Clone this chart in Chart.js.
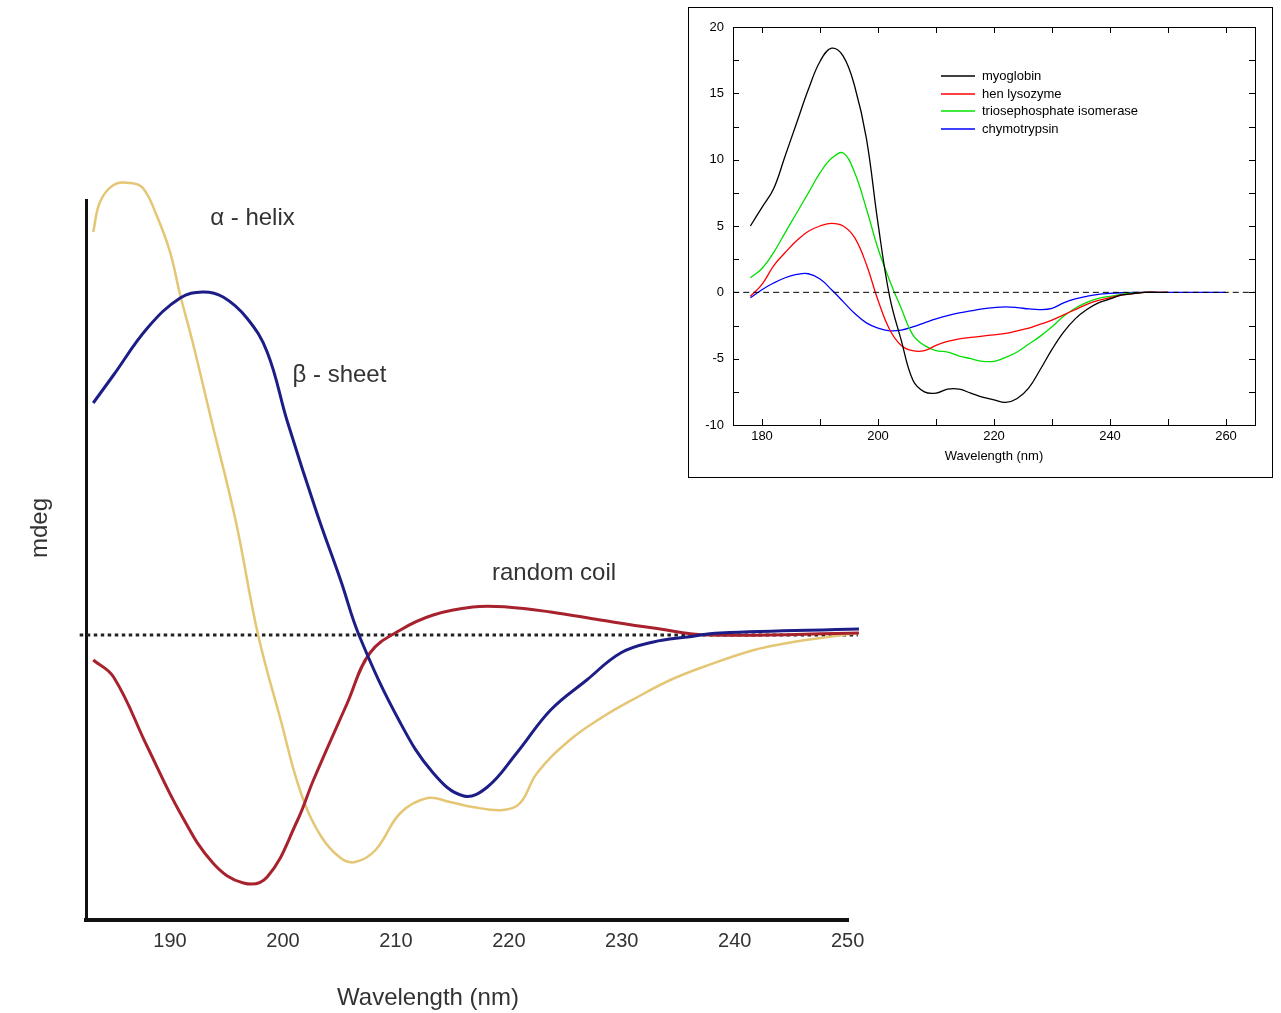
<!DOCTYPE html>
<html>
<head>
<meta charset="utf-8">
<script src="https://cdn.jsdelivr.net/npm/chart.js@4.4.0/dist/chart.umd.min.js"></script>
<style>
  body { margin: 0; background: #fff; }
  #left { position: absolute; left: 0; top: 0; }
  #rightBox { position: absolute; left: 688px; top: 7px; width: 583px; height: 469px; border: 1px solid #000; background: #fff; }
  #right { display: block; }
</style>
</head>
<body>
<canvas id="left" width="880" height="1013"></canvas>
<div id="rightBox"><canvas id="right" width="583" height="469"></canvas></div>
<script>
// ---- big chart: reference spectra of secondary structure ----
const helixNm   = [183.2, 183.8, 185.0, 186.5, 187.6, 188.8, 190.0, 190.9, 192.0, 193.7, 195.8, 197.8, 199.8, 201.5, 203.3, 205.1, 206.4, 208.2, 210.4, 212.8, 214.8, 216.8, 219.5, 221.0, 222.5, 225.4, 228.3, 231.4, 234.3, 237.2, 241.7, 244.7, 247.6, 250.9];
const helixMdeg = [40.3, 43.3, 45.0, 45.2, 44.7, 42.0, 38.3, 34.0, 29.3, 21.3, 11.5, 0, -8.5, -15.5, -20.0, -22.3, -22.7, -21.5, -17.8, -16.3, -16.7, -17.2, -17.5, -16.8, -13.8, -10.5, -8.2, -6.2, -4.5, -3.2, -1.5, -0.8, -0.3, 0.2];

const sheetNm   = [183.2, 185.0, 188.0, 190.9, 192.9, 194.7, 196.8, 198.6, 200.4, 203.0, 205.1, 206.8, 210.4, 213.3, 216.0, 218.1, 220.7, 223.7, 226.9, 229.9, 232.8, 235.8, 238.7, 251.0];
const sheetMdeg = [23.2, 26.0, 30.7, 33.7, 34.3, 33.8, 31.7, 28.3, 21.3, 12.2, 5.5, -0.2, -8.8, -13.8, -16.1, -15.2, -11.8, -7.5, -4.5, -1.8, -0.7, -0.2, 0.2, 0.6];

const coilNm    = [183.2, 185.0, 188.0, 190.9, 193.8, 196.5, 198.6, 201.3, 202.7, 205.7, 207.7, 210.4, 213.3, 216.8, 219.8, 223.7, 228.1, 232.8, 237.8, 251.0];
const coilMdeg  = [-2.5, -4.2, -11.2, -17.8, -22.8, -24.8, -24.2, -18.5, -14.5, -6.8, -1.8, 0.5, 2.0, 2.8, 2.8, 2.3, 1.5, 0.7, 0, 0.2];

const zeroNm = [182.0, 250.9];
const leftTicks = [190, 200, 210, 220, 230, 240, 250];

const structLabels = [
  {text: 'α - helix', nm: 197.3, mdeg: 41.7},
  {text: 'β - sheet', nm: 205.0, mdeg: 26.0},
  {text: 'random coil', nm: 224.0, mdeg: 6.2}
];

// ---- inset: measured proteins ----
const wavelengths = [178, 180, 182, 184, 186, 188, 190, 192, 194, 196, 198, 200, 202, 204, 206, 208, 210, 212, 214, 216, 218, 220, 222, 224, 226, 228, 230, 232, 234, 236, 238, 240, 242, 244, 246, 248, 250, 252, 254, 256, 258, 260];
const myoglobin = [5.0, 6.4, 7.8, 10.3, 12.8, 15.3, 17.4, 18.4, 17.8, 15.5, 11.6, 5.2, -0.3, -3.6, -6.6, -7.5, -7.6, -7.3, -7.3, -7.6, -7.9, -8.1, -8.3, -8.0, -7.2, -5.8, -4.3, -3.0, -2.0, -1.3, -0.8, -0.5, -0.2, -0.1, 0, 0, 0, null, null, null, null, null];
const lysozyme  = [-0.3, 0.6, 2.0, 3.0, 3.9, 4.6, 5.0, 5.2, 5.0, 4.1, 2.1, -0.6, -2.8, -4.0, -4.4, -4.4, -4.0, -3.7, -3.5, -3.4, -3.3, -3.2, -3.1, -2.9, -2.7, -2.4, -2.1, -1.7, -1.3, -0.9, -0.6, -0.4, -0.2, -0.1, 0, 0, 0, null, null, null, null, null];
const isomerase = [1.1, 1.8, 3.0, 4.5, 6.0, 7.5, 9.0, 10.1, 10.5, 9.0, 6.3, 3.3, 0.9, -1.2, -3.2, -4.0, -4.4, -4.5, -4.8, -5.0, -5.2, -5.2, -4.9, -4.5, -3.9, -3.3, -2.6, -1.8, -1.2, -0.75, -0.45, -0.3, -0.15, -0.05, 0, null, null, null, null, null, null, null];
const chymotrypsin = [-0.4, 0.2, 0.7, 1.1, 1.35, 1.4, 1.0, 0.2, -0.7, -1.6, -2.3, -2.7, -2.9, -2.85, -2.6, -2.3, -2.0, -1.75, -1.55, -1.4, -1.25, -1.15, -1.1, -1.15, -1.25, -1.3, -1.2, -0.8, -0.5, -0.3, -0.15, -0.08, -0.03, 0, 0, 0, 0, 0, 0, 0, 0, 0];
const seriesNames = ['myoglobin', 'hen lysozyme', 'triosephosphate isomerase', 'chymotrypsin'];
const seriesColors = ['#000000', '#ff0000', '#00e000', '#0000ff'];
const insetTicksX = [180, 200, 220, 240, 260];
const insetMinorX = [180, 190, 200, 210, 220, 230, 240, 250, 260];
const insetMinorY = [-7.5, -5, -2.5, 0, 2.5, 5, 7.5, 10, 12.5, 15, 17.5];

const FONT = '"Liberation Sans", Arial, sans-serif';
const pair = (xs, ys) => xs.map((x, i) => ({x: x, y: ys[i]}));

const leftText = {
  id: 'leftText',
  afterDraw(chart) {
    const {ctx, scales: {x, y}} = chart;
    ctx.save();
    ctx.fillStyle = '#333';
    ctx.font = '24px ' + FONT;
    ctx.textAlign = 'center';
    ctx.textBaseline = 'middle';
    structLabels.forEach(l => ctx.fillText(l.text, x.getPixelForValue(l.nm), y.getPixelForValue(l.mdeg)));
    ctx.fillText('Wavelength (nm)', 428, 998);
    ctx.translate(40, 528);
    ctx.rotate(-Math.PI / 2);
    ctx.fillText('mdeg', 0, 0);
    ctx.restore();
  }
};

new Chart(document.getElementById('left'), {
  type: 'line',
  data: {
    datasets: [
      {data: pair(sheetNm, sheetMdeg), borderColor: '#1d1d88', borderWidth: 3, clip: false},
      {data: pair(coilNm, coilMdeg), borderColor: '#a8222e', borderWidth: 3, clip: false},
      {data: pair(helixNm, helixMdeg), borderColor: '#e4c674', borderWidth: 2.5, clip: false},
      {data: pair(zeroNm, [0, 0]), borderColor: '#222', borderWidth: 3, borderDash: [3.5, 3.5], clip: false}
    ]
  },
  options: {
    responsive: false,
    animation: false,
    layout: {padding: {left: 86, top: 200, right: 32, bottom: 0}},
    elements: {point: {radius: 0}, line: {tension: 0.4, capBezierPoints: false}},
    plugins: {legend: {display: false}, tooltip: {enabled: false}},
    scales: {
      x: {
        type: 'linear', min: 182.56, max: 250.03,
        grid: {display: false, drawTicks: false},
        border: {display: true, color: '#111', width: 4},
        ticks: {font: {size: 20, family: FONT}, color: '#333', padding: 9},
        afterBuildTicks: s => { s.ticks = leftTicks.map(v => ({value: v})); },
        afterFit: s => { s.height = 93; }
      },
      y: {
        type: 'linear', min: -28.5, max: 43.5,
        grid: {display: false, drawTicks: false},
        border: {display: true, color: '#111', width: 3},
        ticks: {display: false},
        afterFit: s => { s.width = 0; }
      }
    }
  },
  plugins: [leftText]
});

const insetDecor = {
  id: 'insetDecor',
  afterDraw(chart) {
    const {ctx, chartArea: a, scales: {x, y}} = chart;
    ctx.save();
    ctx.strokeStyle = '#000';
    ctx.lineWidth = 1;
    ctx.strokeRect(a.left + 0.5, a.top + 0.5, a.right - a.left, a.bottom - a.top);
    ctx.beginPath();
    insetMinorX.forEach(v => {
      const px = Math.round(x.getPixelForValue(v)) + 0.5;
      ctx.moveTo(px, a.bottom); ctx.lineTo(px, a.bottom - 6);
      ctx.moveTo(px, a.top); ctx.lineTo(px, a.top + 6);
    });
    insetMinorY.forEach(v => {
      const py = Math.round(y.getPixelForValue(v)) + 0.5;
      ctx.moveTo(a.left, py); ctx.lineTo(a.left + 6, py);
      ctx.moveTo(a.right, py); ctx.lineTo(a.right - 6, py);
    });
    ctx.stroke();
    // legend
    ctx.font = '13px ' + FONT;
    ctx.textBaseline = 'middle';
    ctx.fillStyle = '#000';
    ctx.lineWidth = 1.3;
    const rows = [49, 67, 84, 102];
    seriesNames.forEach((name, i) => {
      const yy = a.top + rows[i];
      ctx.strokeStyle = seriesColors[i];
      ctx.beginPath();
      ctx.moveTo(a.left + 208, yy); ctx.lineTo(a.left + 242, yy);
      ctx.stroke();
      ctx.fillText(name, a.left + 249, yy);
    });
    ctx.restore();
  }
};

new Chart(document.getElementById('right'), {
  type: 'line',
  data: {
    datasets: [
      {data: pair([175, 265], [0, 0]), borderColor: '#000', borderWidth: 1, borderDash: [6, 4]},
      {data: pair(wavelengths, myoglobin), borderColor: seriesColors[0], borderWidth: 1.3},
      {data: pair(wavelengths, lysozyme), borderColor: seriesColors[1], borderWidth: 1.3},
      {data: pair(wavelengths, isomerase), borderColor: seriesColors[2], borderWidth: 1.3},
      {data: pair(wavelengths, chymotrypsin), borderColor: seriesColors[3], borderWidth: 1.3}
    ]
  },
  options: {
    responsive: false,
    animation: false,
    layout: {padding: {left: 0, top: 19, right: 17, bottom: 0}},
    elements: {point: {radius: 0}, line: {tension: 0.4}},
    plugins: {legend: {display: false}, tooltip: {enabled: false}},
    scales: {
      x: {
        type: 'linear', min: 175, max: 265,
        grid: {display: false, drawTicks: false},
        border: {display: false},
        ticks: {font: {size: 13, family: FONT}, color: '#000', padding: 4},
        title: {display: true, text: 'Wavelength (nm)', font: {size: 13, family: FONT}, color: '#000', padding: {top: 0, bottom: 13}},
        afterBuildTicks: s => { s.ticks = insetTicksX.map(v => ({value: v})); },
        afterFit: s => { s.height = 52; }
      },
      y: {
        type: 'linear', min: -10, max: 20,
        grid: {display: false, drawTicks: false},
        border: {display: false},
        ticks: {stepSize: 5, font: {size: 13, family: FONT}, color: '#000', padding: 9},
        afterFit: s => { s.width = 44; }
      }
    }
  },
  plugins: [insetDecor]
});
</script>
</body>
</html>
